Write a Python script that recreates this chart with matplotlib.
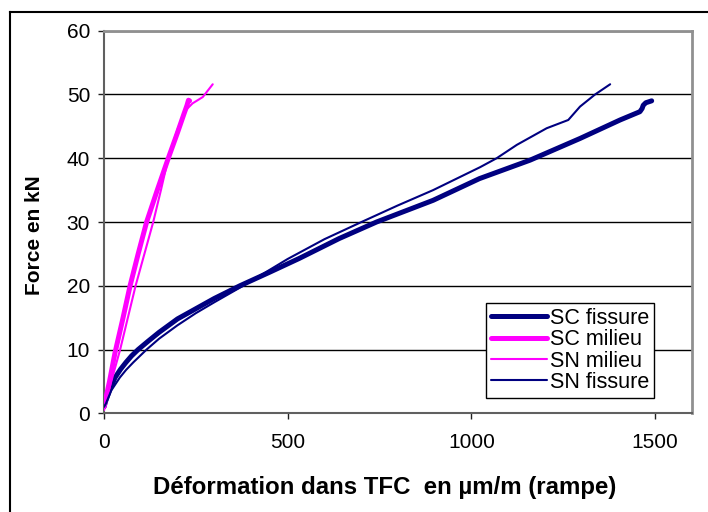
import matplotlib
matplotlib.use("Agg")
import matplotlib.pyplot as plt
from matplotlib.lines import Line2D

plt.rcParams["font.family"] = ["Liberation Sans", "DejaVu Sans"]

# strain (um/m) vs force (kN) for each gauge
sc_fissure_x = [0, 5, 15, 30, 45, 60, 75, 93, 120, 150, 200, 250, 300, 370,
                450, 532, 640, 742, 896, 1022, 1160, 1296, 1405, 1459, 1465,
                1468, 1475, 1491]
sc_fissure_y = [1, 2, 3.6, 5.6, 6.9, 8.0, 9.0, 10, 11.3, 12.7, 14.8, 16.4,
                18.0, 20, 22.1, 24.3, 27.4, 30, 33.4, 36.8, 39.7, 43.1, 46.0,
                47.3, 47.8, 48.3, 48.7, 49.0]

sc_milieu_x = [0, 15, 30, 50, 71, 93, 116, 145, 175, 200, 218, 226, 230, 233]
sc_milieu_y = [1, 5, 9.5, 14.5, 20, 25, 30, 35, 40, 44, 47, 48.3, 49.1, 49.0]

sn_milieu_x = [0, 15, 44, 65, 86, 110, 134, 155, 175, 200, 222, 241, 269, 296]
sn_milieu_y = [0.5, 4, 10, 15, 20, 25, 30, 35, 40, 44.5, 47.5, 48.6, 49.6, 51.6]

sn_fissure_x = [0, 5, 20, 43, 60, 80, 116, 150, 200, 250, 300, 379, 500, 600,
                701, 800, 896, 1024, 1069, 1124, 1205, 1264, 1296, 1337, 1378]
sn_fissure_y = [1, 1.5, 3.6, 5.6, 6.8, 8.0, 10, 11.7, 13.8, 15.7, 17.4, 20,
                24.2, 27.3, 30, 32.6, 35, 38.6, 40, 42.1, 44.7, 46.0, 48.1,
                50, 51.6]

NAVY = "#000080"
PINK = "#FF00FF"

fig = plt.figure(figsize=(7.08, 5.12), dpi=100)
ax = fig.add_axes([104 / 708, 1 - 413.3 / 512, (691.7 - 104) / 708, (413.3 - 30.7) / 512])

kw = dict(solid_capstyle="round", solid_joinstyle="round")
ax.plot(sc_fissure_x, sc_fissure_y, color=NAVY, lw=3.6, label="SC fissure", zorder=4, **kw)
ax.plot(sc_milieu_x, sc_milieu_y, color=PINK, lw=3.6, label="SC milieu", zorder=4, **kw)
ax.plot(sn_milieu_x, sn_milieu_y, color=PINK, lw=1.5, label="SN milieu", zorder=5, **kw)
ax.plot(sn_fissure_x, sn_fissure_y, color=NAVY, lw=1.5, label="SN fissure", zorder=5, **kw)

ax.set_xlim(0, 1600)
ax.set_ylim(0, 60)
ax.set_xticks([0, 500, 1000, 1500])
ax.set_yticks(range(0, 61, 10))
ax.yaxis.grid(True, color="black", lw=1.0)
ax.set_axisbelow(True)

for side in ("left", "bottom"):
    ax.spines[side].set_color("#606060")
    ax.spines[side].set_linewidth(1.5)
for side in ("top", "right"):
    ax.spines[side].set_color("#909090")
    ax.spines[side].set_linewidth(2.0)

ax.tick_params(direction="out", length=4, width=1, color="#202020",
               labelsize=15, pad=6)
ax.tick_params(axis="x", pad=10)

ax.set_xlabel("Déformation dans TFC  en µm/m (rampe)", fontsize=17.3,
              fontweight="bold")
ax.set_ylabel("Force en kN", fontsize=15, fontweight="bold")
ax.xaxis.set_label_coords(0.478, -0.165)
ax.yaxis.set_label_coords(-0.102, 0.466)

leg = ax.legend(loc="upper left", bbox_to_anchor=(486 / 708, 1 - 303 / 512),
                bbox_transform=fig.transFigure, fontsize=15.5, frameon=True,
                fancybox=False, framealpha=1, edgecolor="black",
                borderpad=0.22, labelspacing=0.02, handlelength=2.6,
                handletextpad=0.15, borderaxespad=0)
leg.get_frame().set_linewidth(1.0)

# outer chart border (left and top edges)
fig.add_artist(Line2D([10 / 708, 10 / 708], [0, 1 - 12 / 512],
                      transform=fig.transFigure, color="black", lw=1.5))
fig.add_artist(Line2D([10 / 708, 1], [1 - 12 / 512, 1 - 12 / 512],
                      transform=fig.transFigure, color="black", lw=1.5))

fig.savefig("out.png", dpi=100)
